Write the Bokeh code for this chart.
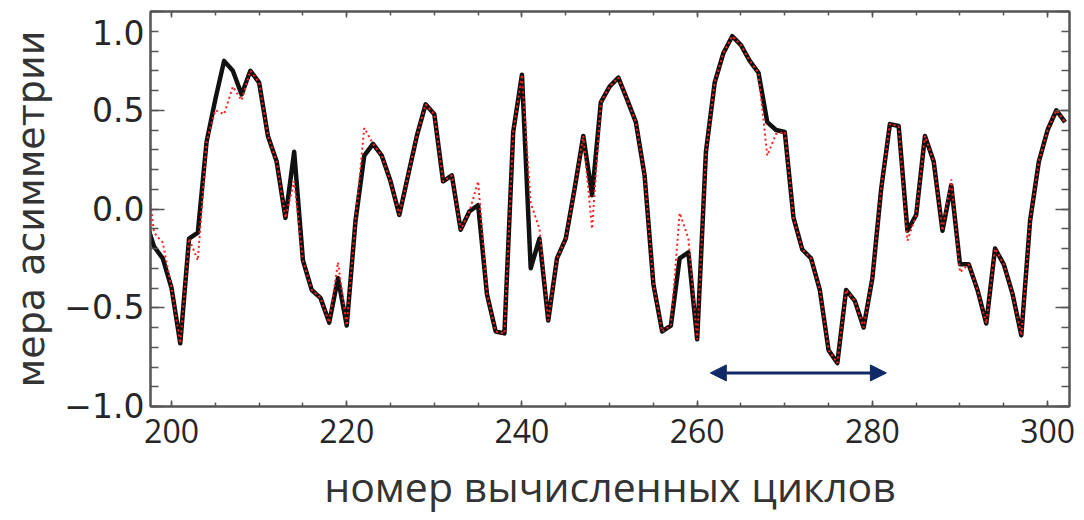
from bokeh.plotting import figure
from bokeh.models import (Range1d, LinearAxis, FixedTicker, Arrow, NormalHead,
                          CustomJSTickFormatter)
from bokeh.embed import file_html
from bokeh.resources import INLINE

# ---- data ----
cycles = list(range(197, 303))
black_curve = [
    -0.05, -0.19, -0.25, -0.40, -0.68, -0.15, -0.12, 0.34, 0.555, 0.75,   # 197-206
    0.70, 0.58, 0.70, 0.64, 0.37, 0.24, -0.045, 0.29, -0.26, -0.41,       # 207-216
    -0.45, -0.575, -0.35, -0.59, -0.06, 0.27, 0.33, 0.27, 0.14, -0.03,    # 217-226
    0.17, 0.37, 0.53, 0.48, 0.14, 0.17, -0.105, -0.013, 0.02, -0.43,      # 227-236
    -0.62, -0.63, 0.39, 0.68, -0.30, -0.15, -0.565, -0.25, -0.15, 0.10,   # 237-246
    0.37, 0.07, 0.54, 0.62, 0.665, 0.555, 0.44, 0.17, -0.38, -0.62,       # 247-256
    -0.59, -0.25, -0.22, -0.66, 0.29, 0.64, 0.79, 0.875, 0.83, 0.75,      # 257-266
    0.69, 0.44, 0.40, 0.39, -0.045, -0.205, -0.25, -0.41, -0.715, -0.78,  # 267-276
    -0.41, -0.465, -0.60, -0.35, 0.10, 0.43, 0.42, -0.11, -0.03, 0.37,    # 277-286
    0.24, -0.11, 0.12, -0.28, -0.28, -0.41, -0.58, -0.20, -0.28, -0.43,   # 287-296
    -0.64, -0.06, 0.24, 0.40, 0.50, 0.44,                                 # 297-302
]
red_curve = [
    0.25, -0.12, -0.17, -0.40, -0.68, -0.15, -0.26, 0.34, 0.50, 0.48,     # 197-206
    0.62, 0.55, 0.70, 0.64, 0.37, 0.24, -0.045, 0.14, -0.26, -0.41,       # 207-216
    -0.45, -0.575, -0.27, -0.59, -0.06, 0.41, 0.33, 0.27, 0.14, -0.03,    # 217-226
    0.17, 0.37, 0.53, 0.48, 0.14, 0.17, -0.105, -0.013, 0.14, -0.43,      # 227-236
    -0.62, -0.63, 0.39, 0.68, 0.03, -0.10, -0.565, -0.25, -0.15, 0.10,    # 237-246
    0.37, -0.10, 0.54, 0.62, 0.665, 0.555, 0.44, 0.17, -0.38, -0.62,      # 247-256
    -0.59, -0.02, -0.15, -0.66, 0.29, 0.64, 0.79, 0.875, 0.83, 0.75,      # 257-266
    0.69, 0.27, 0.38, 0.39, -0.045, -0.205, -0.25, -0.41, -0.715, -0.78,  # 267-276
    -0.41, -0.465, -0.60, -0.35, 0.10, 0.43, 0.42, -0.16, -0.03, 0.37,    # 277-286
    0.24, -0.11, 0.15, -0.32, -0.28, -0.41, -0.58, -0.20, -0.28, -0.43,   # 287-296
    -0.64, -0.06, 0.24, 0.40, 0.50, 0.44,                                 # 297-302
]
x_ticks = [200, 220, 240, 260, 280, 300]
x_minor = list(range(195, 306, 5))
y_ticks = [-1.0, -0.5, 0.0, 0.5, 1.0]
# top label pushed down one (short) line so it sits inside like the reference
y_tick_labels = ["\u22121.0", "\u22120.5", "0.0", "0.5", "\n1.0"]
y_minor = [round(-1.0 + 0.1 * k, 2) for k in range(21)]
arrow_x = [261.5, 281.6]
arrow_y = -0.83
x_title = "номер вычисленных циклов"
y_title = "мера асимметрии"

navy = "#0f2a66"
frame_col = "#555555"
text_col = "#262626"

p = figure(width=1080, height=516,
           x_range=Range1d(197.6, 302.5), y_range=Range1d(-1.0, 1.0),
           output_backend="svg", toolbar_location=None,
           min_border_left=150, min_border_right=11,
           min_border_top=11, min_border_bottom=110)
p.xgrid.visible = False
p.ygrid.visible = False
p.outline_line_color = frame_col
p.outline_line_width = 2
p.background_fill_color = "white"
p.border_fill_color = "white"

xt = FixedTicker(ticks=x_ticks, minor_ticks=x_minor)
yt = FixedTicker(ticks=y_ticks, minor_ticks=y_minor)
blank = CustomJSTickFormatter(code="return ''")

def style_common(ax):
    ax.axis_line_color = frame_col
    ax.axis_line_width = 2
    ax.major_tick_line_color = frame_col
    ax.minor_tick_line_color = frame_col
    ax.major_tick_line_width = 1.5
    ax.minor_tick_line_width = 1.5
    ax.major_tick_out = 0
    ax.minor_tick_out = 0

def style_x(ax, labels=True):
    ax.ticker = xt
    style_common(ax)
    ax.major_tick_in = 6
    ax.minor_tick_in = 4
    if labels:
        ax.major_label_text_font = "Open Sans"
        ax.major_label_text_font_size = "32px"
        ax.major_label_text_color = text_col
        ax.major_label_standoff = 12
    else:
        ax.formatter = blank
        ax.major_label_standoff = 0

def style_y(ax, labels=True):
    ax.ticker = yt
    style_common(ax)
    ax.major_tick_in = 14
    ax.minor_tick_in = 8
    if labels:
        ax.major_label_overrides = dict(zip(y_ticks, y_tick_labels))
        ax.major_label_text_font = "DejaVu Sans"
        ax.major_label_text_font_size = "33px"
        ax.major_label_text_line_height = 0.35
        ax.major_label_text_color = text_col
        ax.major_label_standoff = 6
    else:
        ax.formatter = blank
        ax.major_label_standoff = 0

style_x(p.xaxis[0])
p.xaxis[0].axis_label = x_title
p.xaxis[0].axis_label_text_font = "Open Sans"
p.xaxis[0].axis_label_text_font_size = "41px"
p.xaxis[0].axis_label_text_font_style = "normal"
p.xaxis[0].axis_label_text_color = "#333333"
p.xaxis[0].axis_label_standoff = 12

style_y(p.yaxis[0])
p.yaxis[0].axis_label = y_title
p.yaxis[0].axis_label_text_font = "DejaVu Sans"
p.yaxis[0].axis_label_text_font_size = "38px"
p.yaxis[0].axis_label_text_font_style = "normal"
p.yaxis[0].axis_label_text_color = "#333333"
p.yaxis[0].axis_label_standoff = 8

top_ax = LinearAxis()
style_x(top_ax, labels=False)
p.add_layout(top_ax, "above")
right_ax = LinearAxis()
style_y(right_ax, labels=False)
p.add_layout(right_ax, "right")

p.line(cycles, black_curve, line_color="#111111", line_width=4.5, line_join="round")
p.line(cycles, red_curve, line_color="#ff2020", line_width=2.0, line_dash="2 3")

p.add_layout(Arrow(start=NormalHead(size=16, fill_color=navy, line_color=navy),
                   end=NormalHead(size=16, fill_color=navy, line_color=navy),
                   x_start=arrow_x[0], y_start=arrow_y,
                   x_end=arrow_x[1], y_end=arrow_y,
                   line_color=navy, line_width=3))

open("out.html", "w").write(file_html(p, INLINE))
